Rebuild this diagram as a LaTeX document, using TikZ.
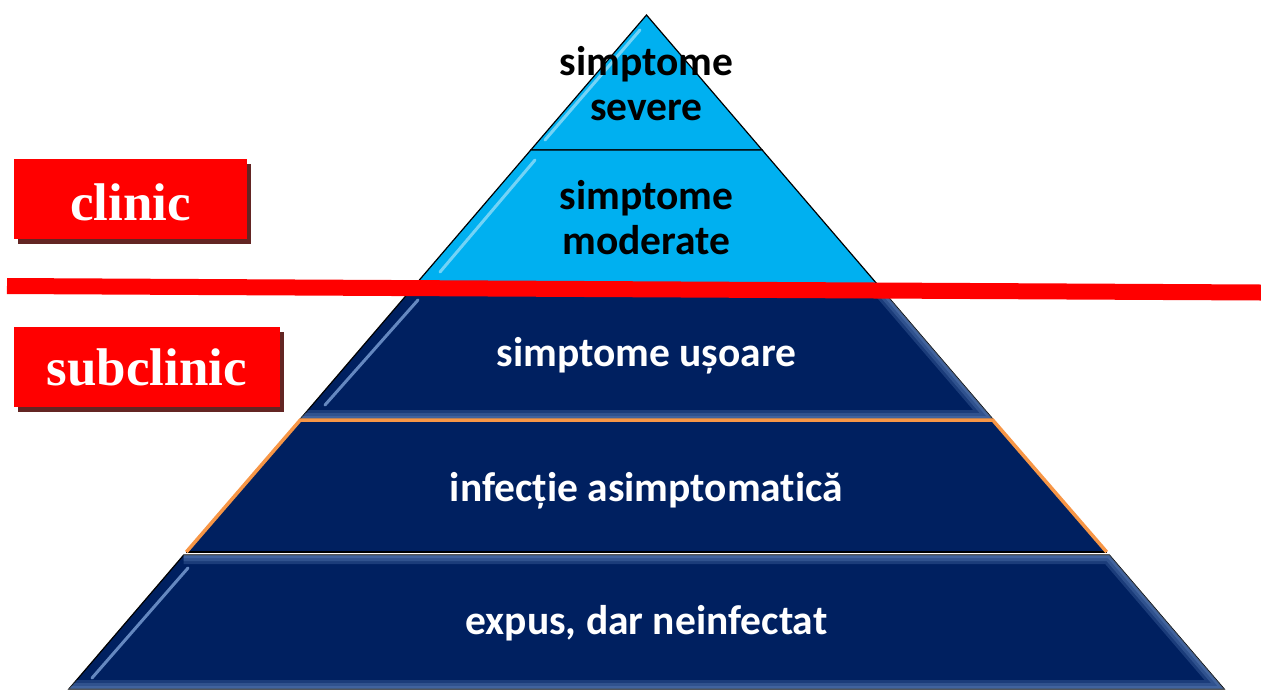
\documentclass[tikz,border=0pt]{standalone}
\usepackage{fontspec}
\setmainfont{Carlito}[Ligatures=NoCommon]
\newfontfamily\boxserif{Liberation Serif}
\definecolor{lblue}{HTML}{00B0F0}
\definecolor{navy}{HTML}{002060}
\definecolor{redbox}{HTML}{FF0000}
\definecolor{shadowred}{HTML}{632523}
\definecolor{orangeline}{HTML}{F79646}
\definecolor{glowblue}{HTML}{7FA3D8}
\tikzset{
  lightlayer/.style={fill=lblue, draw=black, line width=1.2pt, line join=miter},
  navylayer/.style={fill=navy, draw=black, line width=1.2pt, line join=miter},
  hilite/.style={line width=3pt, line cap=round, draw=white, opacity=0.45},
  navyhilite/.style={line width=3pt, line cap=round, draw=glowblue, opacity=0.8},
  glow/.style={draw=glowblue, opacity=0.22},
  darktext/.style={font=\bfseries\fontsize{41.5}{45}\selectfont, text=black, align=center, inner sep=0pt},
  whitetext/.style={font=\bfseries\fontsize{41.5}{45}\selectfont, text=white, align=center, inner sep=0pt},
  redlabel/.style={fill=redbox, inner sep=0pt},
  labeltext/.style={font=\boxserif\bfseries\fontsize{53}{60}\selectfont, text=white, inner sep=0pt, anchor=base},
}
\begin{document}
\begin{tikzpicture}[x=1pt,y=-1pt]
\useasboundingbox (0,0) rectangle (1261,689);
% ---- layer 1
\path[lightlayer] (646.5,15) -- (762.2,150) -- (530.8,150) -- cycle;
\draw[hilite] (640,30) -- (545,140);
% ---- layer 2
\path[lightlayer] (530.8,150) -- (762.2,150) -- (877.9,285) -- (415.1,285) -- cycle;
\draw[hilite] (535,160) -- (440,272);
% ---- layer 3
\path[navylayer] (415.1,285) -- (877.9,285) -- (992.7,419) -- (300.3,419) -- cycle;
\begin{scope}
  \clip (415.1,285) -- (877.9,285) -- (992.7,419) -- (300.3,419) -- cycle;
  \foreach \w in {6,12,18} {\draw[glow, line width=\w pt] (877.9,285) -- (992.7,419) -- (300.3,419);}
\end{scope}
\draw[navyhilite] (418,300) -- (325,405);
% ---- layer 4
\path[fill=navy] (300.3,420) -- (992.7,420) -- (1106.7,552) -- (186.3,552) -- cycle;
\draw[black, line width=1.2pt] (186.3,552) -- (1106.7,552);
\draw[orangeline, line width=3.5pt, line join=miter] (186.3,552) -- (300.3,420) -- (992.7,420) -- (1106.7,552);
% ---- layer 5
\path[navylayer] (183.7,555) -- (1109.3,555) -- (1224.1,689) -- (68.9,689) -- cycle;
\begin{scope}
  \clip (183.7,555) -- (1109.3,555) -- (1224.1,689) -- (68.9,689) -- cycle;
  \foreach \w in {6,12,18} {\draw[glow, line width=\w pt] (183.7,555) -- (1109.3,555) -- (1224.1,689) -- (68.9,689);}
\end{scope}
\draw[navyhilite] (188,568) -- (92,678);
% ---- texts
\node[darktext] (sev) at (646.5,84) {simptome\\severe};
\node[darktext] (mod) at (646.5,218) {simptome\\moderate};
\node[whitetext, anchor=base] (mild) at (646.5,366) {simptome ușoare};
\node[whitetext, anchor=base] (asym) at (646.5,501.5) {infecție asimptomatică};
\node[whitetext, anchor=base] (expo) at (646.5,634) {expus, dar neinfectat};
% ---- red divider
\coordinate (divL) at (7,286);
\coordinate (divR) at (1261,292.5);
\draw[redbox, line width=16pt] (divL) -- (divR);
% ---- labels
\fill[shadowred] (17.5,164) rectangle (250.5,244);
\fill[redbox] (14,159) rectangle (247,239);
\node[labeltext] (clin) at (130.5,220) {clinic};
\fill[shadowred] (17.5,332) rectangle (283.5,412);
\fill[redbox] (14,327) rectangle (280,407);
\node[labeltext] (subclin) at (147,385) {subclinic};
\end{tikzpicture}
\end{document}
